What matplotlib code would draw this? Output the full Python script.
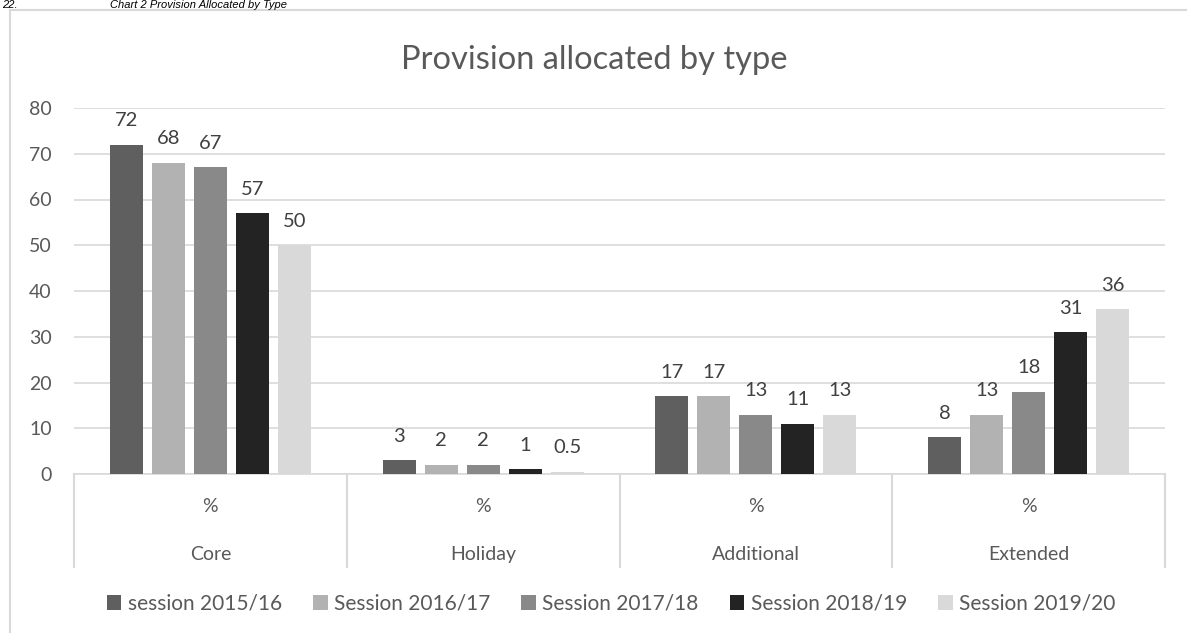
import matplotlib
matplotlib.use("Agg")
import matplotlib.pyplot as plt
from matplotlib.patches import Rectangle
from matplotlib.lines import Line2D
import numpy as np

categories = ["Core", "Holiday", "Additional", "Extended"]
series = ["session 2015/16", "Session 2016/17", "Session 2017/18", "Session 2018/19", "Session 2019/20"]
s2015 = [72, 3, 17, 8]
s2016 = [68, 2, 17, 13]
s2017 = [67, 2, 13, 18]
s2018 = [57, 1, 11, 31]
s2019 = [50, 0.5, 13, 36]
values = [s2015, s2016, s2017, s2018, s2019]
labels = [["72", "3", "17", "8"], ["68", "2", "17", "13"], ["67", "2", "13", "18"],
          ["57", "1", "11", "31"], ["50", "0.5", "13", "36"]]
colors = ["#5f5f5f", "#b2b2b2", "#898989", "#232323", "#d9d9d9"]

W, H = 1187, 633
fig = plt.figure(figsize=(W/100, H/100), dpi=100)
plt.rcParams['font.family'] = ['Lato', 'DejaVu Sans']
txt = "#595959"
fs = 14

# outer frame
fig.patches.append(Rectangle((10/W, -0.1), 1.2, 1 - 10/H + 0.1, transform=fig.transFigure,
                             fill=False, edgecolor="#d9d9d9", linewidth=1.5))
# caption at the very top
fig.text(2/W, 1 - 8/H, "22.", fontsize=8, style="italic", family="Liberation Sans",
         color="black", va="baseline", ha="left")
fig.text(110/W, 1 - 8/H, "Chart 2 Provision Allocated by Type", fontsize=8, style="italic",
         family="Liberation Sans", color="black", va="baseline", ha="left")

left, right, bottom, top = 74/W, 1165/W, 1 - 474/H, 1 - 108/H
ax = fig.add_axes([left, bottom, right - left, top - bottom])
x = np.arange(len(categories))
step = 0.154
bw = 0.121
for i, (vals, lab, c) in enumerate(zip(values, labels, colors)):
    xs = x + (i - 2) * step
    ax.bar(xs, vals, width=bw, color=c, label=series[i], zorder=3)
    for xx, v, l in zip(xs, vals, lab):
        ax.text(xx, v + 3.4, l, ha="center", va="bottom", fontsize=14.5, color="#404040")

ax.set_xlim(-0.5, len(categories) - 0.5)
ax.set_ylim(0, 80)
ax.set_yticks(range(0, 81, 10))
ax.yaxis.grid(True, color="#d9d9d9", linewidth=1.2)
ax.set_axisbelow(True)
for s in ["top", "right", "left"]:
    ax.spines[s].set_visible(False)
ax.spines["bottom"].set_color("#d9d9d9")
ax.spines["bottom"].set_linewidth(1.2)
ax.tick_params(axis="y", length=0, labelsize=fs, labelcolor=txt, pad=16)
ax.tick_params(axis="x", length=0)
ax.set_xticks([])

# category axis
for b in np.arange(-0.5, len(categories), 1.0):
    ax.add_line(Line2D([b, b], [0, -20.3], color="#d9d9d9", linewidth=1.5,
                       clip_on=False))
for xi, c in zip(x, categories):
    ax.text(xi, -7.1, "%", ha="center", va="center", fontsize=fs, color=txt)
    ax.text(xi, -17.6, c, ha="center", va="center", fontsize=fs, color=txt)

fig.text(594/W, 1 - 60/H, "Provision allocated by type", ha="center", va="center",
         fontsize=23.5, color=txt)

fig.legend(loc="center", bbox_to_anchor=(611/W, 1 - 604/H), ncol=5, frameon=False,
           fontsize=15, labelcolor=txt, handlelength=0.7, handleheight=0.7,
           handletextpad=0.3, columnspacing=1.5)

fig.savefig("out.png", dpi=100)
